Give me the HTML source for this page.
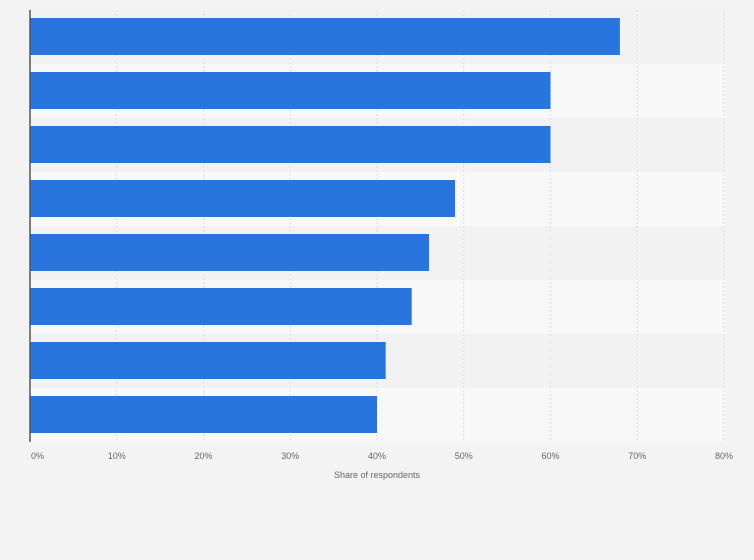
<!DOCTYPE html>
<html><head><meta charset="utf-8"><style>
html,body{margin:0;padding:0;background:#f3f3f3;}
svg{display:block;font-family:"Liberation Sans",sans-serif;}
</style></head><body>
<svg id="chart" width="754" height="560" xmlns="http://www.w3.org/2000/svg">
<rect width="754" height="560" fill="#f3f3f3"/>
<g id="bands"></g><g id="grid"></g><g id="bars"></g><g id="ticks"></g>
<line x1="30" y1="10" x2="30" y2="442" stroke="#555" stroke-width="1.5"/>
<text x="377" y="478" font-size="9" fill="#666" text-anchor="middle">Share of respondents</text>
</svg>
<script>
const categories = ["Item 1","Item 2","Item 3","Item 4","Item 5","Item 6","Item 7","Item 8"];
const values = [68,60,60,49,46,44,41,40];
const tickValues = [0,10,20,30,40,50,60,70,80];
const tickLabels = ["0%","10%","20%","30%","40%","50%","60%","70%","80%"];
const NS="http://www.w3.org/2000/svg";
const x0=30,x1=724,xMax=80,plotTop=10,band=54;
function xs(v){return x0+(x1-x0)*v/xMax;}
function ys(i){return plotTop+i*band;}
const gB=document.getElementById('bands'),gG=document.getElementById('grid'),gBar=document.getElementById('bars'),gT=document.getElementById('ticks');
categories.forEach((c,i)=>{
  const r=document.createElementNS(NS,'rect');
  r.setAttribute('x',x0);r.setAttribute('y',ys(i));r.setAttribute('width',x1+2-x0);r.setAttribute('height',band);
  r.setAttribute('fill',i%2?'#f8f8f8':'#f2f2f2');
  
  
  gB.appendChild(r);
});
tickValues.forEach((t,i)=>{
  const l=document.createElementNS(NS,'line');
  l.setAttribute('x1',xs(t));l.setAttribute('x2',xs(t));l.setAttribute('y1',plotTop);l.setAttribute('y2',plotTop+band*categories.length);
  l.setAttribute('stroke','#ddd');l.setAttribute('stroke-dasharray','2,2');
  
  
  gG.appendChild(l);
  const tx=document.createElementNS(NS,'text');
  tx.setAttribute('x',i===0?xs(t)+1:xs(t));tx.setAttribute('y',459);
  tx.setAttribute('font-size','9');tx.setAttribute('fill','#666');
  tx.setAttribute('text-anchor',i===0?'start':'middle');
  tx.textContent=tickLabels[i];
  
  
  gT.appendChild(tx);
});
values.forEach((v,i)=>{
  const r=document.createElementNS(NS,'rect');
  r.setAttribute('x',x0);r.setAttribute('y',ys(i)+8);r.setAttribute('width',xs(v)-x0);r.setAttribute('height',37);
  r.setAttribute('fill','#2876dd');
  
  
  gBar.appendChild(r);
});
</script>
</body></html>
